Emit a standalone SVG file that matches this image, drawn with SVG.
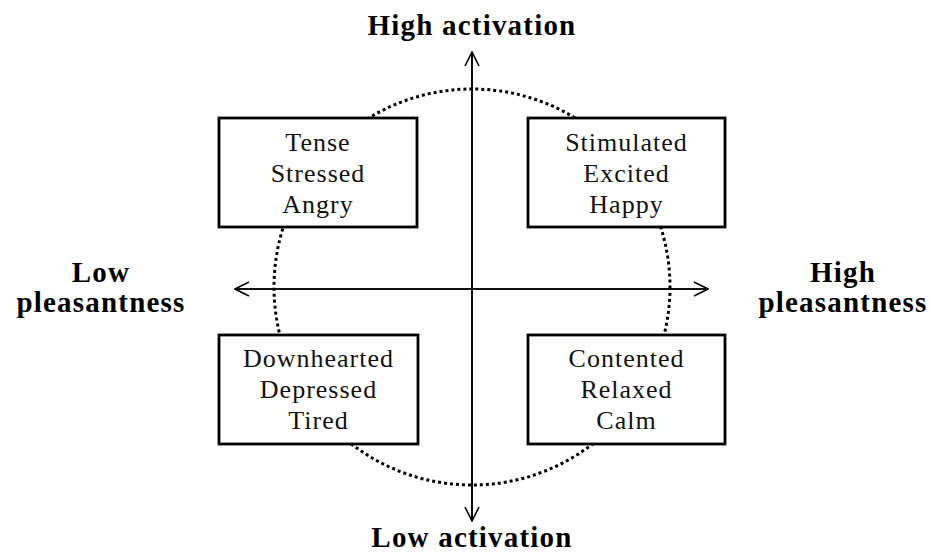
<svg xmlns="http://www.w3.org/2000/svg" width="931" height="553" viewBox="0 0 931 553">
  <style>
    .ring { fill: none; stroke: #000; stroke-width: 3; stroke-dasharray: 3 3; }
    .axis { fill: none; stroke: #000; stroke-width: 1.6; }
    .head { fill: none; stroke: #000; stroke-width: 1.6; }
    .box { fill: #fff; stroke: #000; stroke-width: 2.8; }
    .item { font-family: "Liberation Serif", "DejaVu Serif", serif; font-size: 26px; letter-spacing: 1px; fill: #111; text-anchor: middle; }
    .pole { font-family: "Liberation Serif", "DejaVu Serif", serif; font-size: 29px; font-weight: bold; letter-spacing: 1.2px; fill: #000; text-anchor: middle; }
  </style>
  <defs>
    <marker id="arrow" viewBox="0 0 16 16" refX="15" refY="8" markerWidth="16" markerHeight="16" markerUnits="userSpaceOnUse" orient="auto">
      <path class="head" d="M1,1 L15,8 L1,15"/>
    </marker>
  </defs>
  <rect width="931" height="553" fill="#fff"/>

  <!-- dotted circumplex ring -->
  <circle class="ring" cx="472" cy="287" r="198"/>

  <!-- axes -->
  <g id="connectors">
    <line class="axis" x1="472" y1="521" x2="472" y2="52" marker-end="url(#arrow)"/>
    <line class="axis" x1="472" y1="52" x2="472" y2="521" marker-end="url(#arrow)"/>
    <line class="axis" x1="708" y1="289" x2="235" y2="289" marker-end="url(#arrow)"/>
    <line class="axis" x1="235" y1="289" x2="708" y2="289" marker-end="url(#arrow)"/>
  </g>

  <!-- quadrant boxes -->
  <g id="tense">
    <rect class="box" x="219" y="118" width="198" height="109"/>
    <text class="item" x="318" y="151">Tense</text>
    <text class="item" x="318" y="182">Stressed</text>
    <text class="item" x="318" y="213">Angry</text>
  </g>
  <g id="stimulated">
    <rect class="box" x="528" y="118" width="197" height="109"/>
    <text class="item" x="626.5" y="151">Stimulated</text>
    <text class="item" x="626.5" y="182">Excited</text>
    <text class="item" x="626.5" y="213">Happy</text>
  </g>
  <g id="downhearted">
    <rect class="box" x="219" y="335" width="199" height="109"/>
    <text class="item" x="318.5" y="367">Downhearted</text>
    <text class="item" x="318.5" y="398">Depressed</text>
    <text class="item" x="318.5" y="429">Tired</text>
  </g>
  <g id="contented">
    <rect class="box" x="528" y="335" width="197" height="109"/>
    <text class="item" x="626.5" y="367">Contented</text>
    <text class="item" x="626.5" y="398">Relaxed</text>
    <text class="item" x="626.5" y="429">Calm</text>
  </g>

  <!-- pole labels -->
  <g id="high-activation"><text class="pole" x="472" y="35">High activation</text></g>
  <g id="low-activation"><text class="pole" x="472" y="547">Low activation</text></g>
  <g id="low-pleasantness">
    <text class="pole" x="101" y="282">Low</text>
    <text class="pole" x="101" y="312">pleasantness</text>
  </g>
  <g id="high-pleasantness">
    <text class="pole" x="843" y="282">High</text>
    <text class="pole" x="843" y="312">pleasantness</text>
  </g>
</svg>
